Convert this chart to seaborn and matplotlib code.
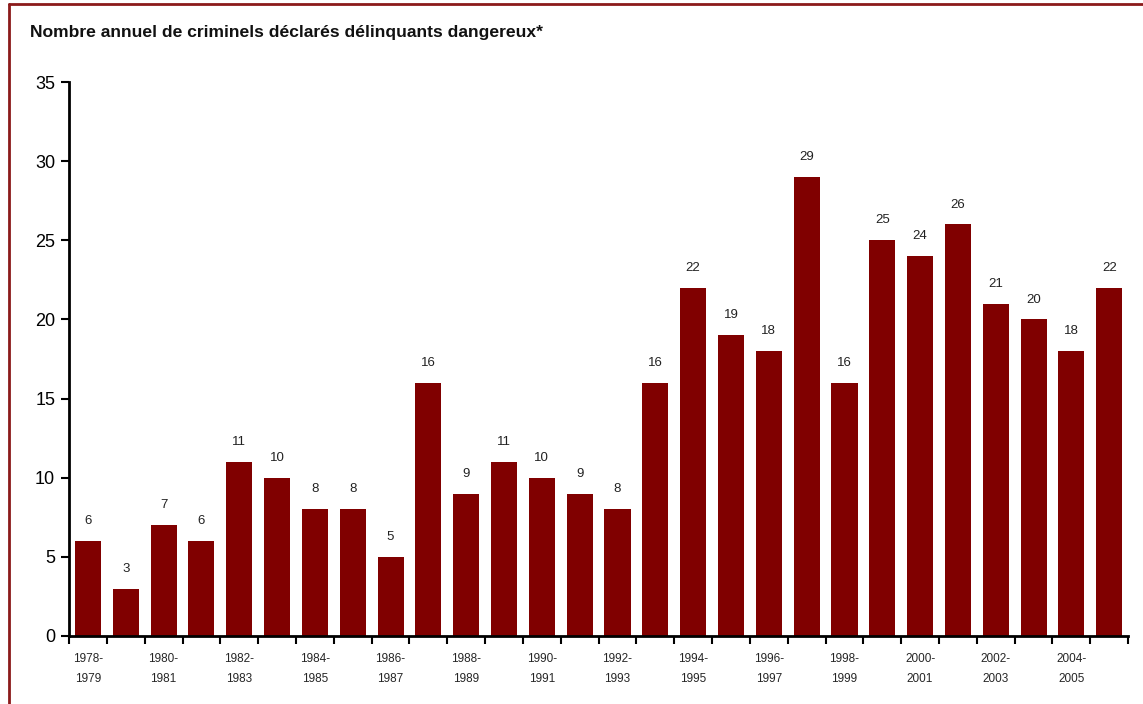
import matplotlib
matplotlib.use("Agg")
import matplotlib.pyplot as plt
from matplotlib import font_manager
import seaborn as sns
import pandas as pd

periods = [f"{y}-{y + 1}" for y in range(1978, 2006)]
counts = [6, 3, 7, 6, 11, 10, 8, 8, 5, 16, 9, 11, 10, 9, 8, 16,
          22, 19, 18, 29, 16, 25, 24, 26, 21, 20, 18, 22]
title = "Nombre annuel de criminels déclarés délinquants dangereux*"
bar_color = "#800000"

sns.set_theme(style="white")
names = {f.name for f in font_manager.fontManager.ttflist}
family = [f for f in ["Liberation Sans Narrow", "Liberation Sans", "DejaVu Sans"] if f in names]
plt.rcParams["font.family"] = family

df = pd.DataFrame({"period": periods, "count": counts})

fig = plt.figure(figsize=(11.43, 7.04), dpi=100)
ax = fig.add_axes([0.0604, 0.0966, 0.9266, 0.7869])
sns.barplot(data=df, x="period", y="count", color=bar_color, width=0.69,
            saturation=1, linewidth=0, ax=ax)

ax.set_xlim(-0.5, len(periods) - 0.5)
ax.set_ylim(0, 35)
ax.set_yticks(range(0, 36, 5))
ax.tick_params(axis="y", labelsize=13, length=6, width=1.5, direction="out",
               left=True, pad=4, colors="black")

# ticks between categories, labels under every other bar
ax.set_xticks([i - 0.5 for i in range(len(periods) + 1)])
ax.set_xticklabels([])
ax.set_xticks(list(range(0, len(periods), 2)), minor=True)
ax.set_xticklabels([p.replace("-", "-\n") for p in periods[::2]], minor=True,
                   fontsize=8.5, linespacing=1.9)
ax.tick_params(axis="x", which="major", length=6, width=1.5, direction="out",
               bottom=True, colors="black")
ax.tick_params(axis="x", which="minor", length=0, pad=12)
ax.set_xlabel("")
ax.set_ylabel("")

for s in ["top", "right"]:
    ax.spines[s].set_visible(False)
for s in ["left", "bottom"]:
    ax.spines[s].set_color("black")
    ax.spines[s].set_linewidth(2)

for i, v in enumerate(counts):
    ax.annotate(str(v), (i, v), xytext=(0, 10), textcoords="offset points",
                ha="center", va="bottom", fontsize=9.5, color="#222222")

fig.text(30 / 1143, 1 - 33 / 704, title, fontsize=12.6, fontweight="bold",
         ha="left", va="center", color="#111111")

# frame lines along the top and left edge
fig.add_artist(plt.Line2D([9 / 1143, 1], [1 - 4 / 704, 1 - 4 / 704],
                          transform=fig.transFigure, color="#8b1a1a", lw=2))
fig.add_artist(plt.Line2D([9 / 1143, 9 / 1143], [0, 1 - 4 / 704],
                          transform=fig.transFigure, color="#8b1a1a", lw=2))

fig.savefig("out.png", dpi=100)
